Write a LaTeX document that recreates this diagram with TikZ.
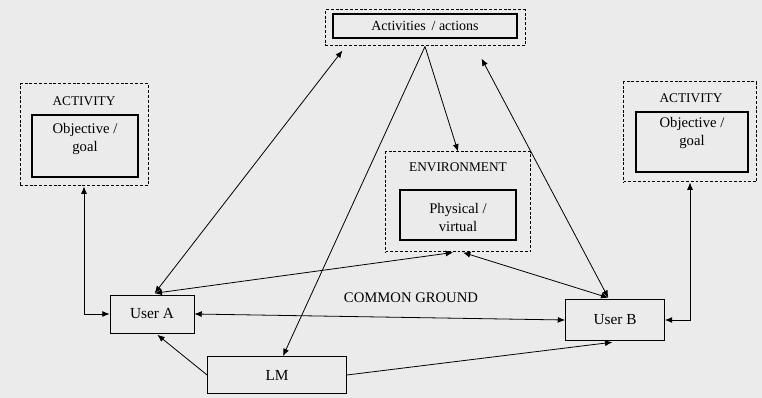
\documentclass[tikz,border=0pt]{standalone}
\usepackage{fontspec}
\setmainfont{Liberation Serif}
\usetikzlibrary{arrows.meta,calc,positioning}
\begin{document}
\begin{tikzpicture}[x=.75pt,y=-.75pt,font=\fontsize{11}{13.5}\selectfont,
 outerbox/.style={draw,dash pattern=on 2.2pt off 1.4pt,line width=.75pt,inner sep=0pt},
 innerbox/.style={draw,line width=.8pt,inner sep=0pt},
 userbox/.style={draw,line width=.6pt,inner sep=0pt,font=\fontsize{11.5}{13}\selectfont},
 title/.style={inner sep=1pt,font=\fontsize{10}{12}\selectfont},
 link/.style={line width=.6pt,-{Latex[length=5.5pt,width=4.5pt]}},
 both/.style={line width=.6pt,{Latex[length=5.5pt,width=4.5pt]}-{Latex[length=5.5pt,width=4.5pt]}}]
\fill[black!8] (0,0) rectangle (762,398);
\useasboundingbox (0,0) rectangle (762,398);
\node[outerbox,minimum width=150pt,minimum height=27pt] (actsOut) at (425,28) {};
\node[innerbox,minimum width=138pt,minimum height=18pt,font=\fontsize{10.5}{12}\selectfont] (actsIn) at (425,26) {Activities \,/ actions};
\node[outerbox,minimum width=96pt,minimum height=76.5pt] (actLOut) at (84,135) {};
\node[innerbox,minimum width=79.5pt,minimum height=46.5pt] (actLIn) at (85,146) {};
\node[title] (actLTitle) at (84,101) {ACTIVITY};
\node[align=center,inner sep=0pt] (actLText) at (85,139) {Objective /\\goal};
\node[outerbox,minimum width=99.75pt,minimum height=75pt] (actROut) at (690,132) {};
\node[innerbox,minimum width=84pt,minimum height=45pt] (actRIn) at (692,142) {};
\node[title] (actRTitle) at (691,98) {ACTIVITY};
\node[align=center,inner sep=0pt] (actRText) at (692,133) {Objective /\\goal};
\node[outerbox,minimum width=108.75pt,minimum height=75pt] (envOut) at (458,202) {};
\node[innerbox,minimum width=87pt,minimum height=37.5pt] (envIn) at (458,215) {};
\node[title] (envTitle) at (458,167) {ENVIRONMENT};
\node[align=center,inner sep=0pt] (envText) at (458,217) {Physical /\\virtual};
\node[userbox,minimum width=63pt,minimum height=28.5pt] (userA) at (152,314) {User A};
\node[userbox,minimum width=74.25pt,minimum height=30.75pt] (userB) at (615,320) {User B};
\node[userbox,minimum width=104.25pt,minimum height=27.75pt] (lm) at (277,375) {LM};
\node[title,font=\fontsize{11}{13}\selectfont] (ground) at (411,298) {COMMON GROUND};
\draw[both] ([xshift=2pt,yshift=1pt]userA.north) -- ([xshift=13.5pt,yshift=-3pt]actsOut.south west);
\draw[link] (actsOut.south) -- (envOut.north);
\draw[link] (actsOut.south) -- ([xshift=4.5pt]lm.north);
\draw[both] ([xshift=-5pt,yshift=1pt]userB.north) -- ([xshift=-33pt,yshift=-9pt]actsOut.south east);
\draw[both] ([xshift=2pt,yshift=1pt]userA.north) -- ([xshift=-3.75pt]envOut.south);
\draw[both] ([xshift=-5pt,yshift=1pt]userB.north) -- ([xshift=3.75pt]envOut.south);
\draw[both] (userA.east) -- (userB.west);
\draw[link] (lm.west) -- ([xshift=4pt,yshift=-1pt]userA.south);
\draw[link] (lm.east) -- ([xshift=-2pt,yshift=-1pt]userB.south);
\draw[both] (actLOut.south) |- (userA.west);
\draw[both] (actROut.south) |- (userB.east);
\end{tikzpicture}
\end{document}
